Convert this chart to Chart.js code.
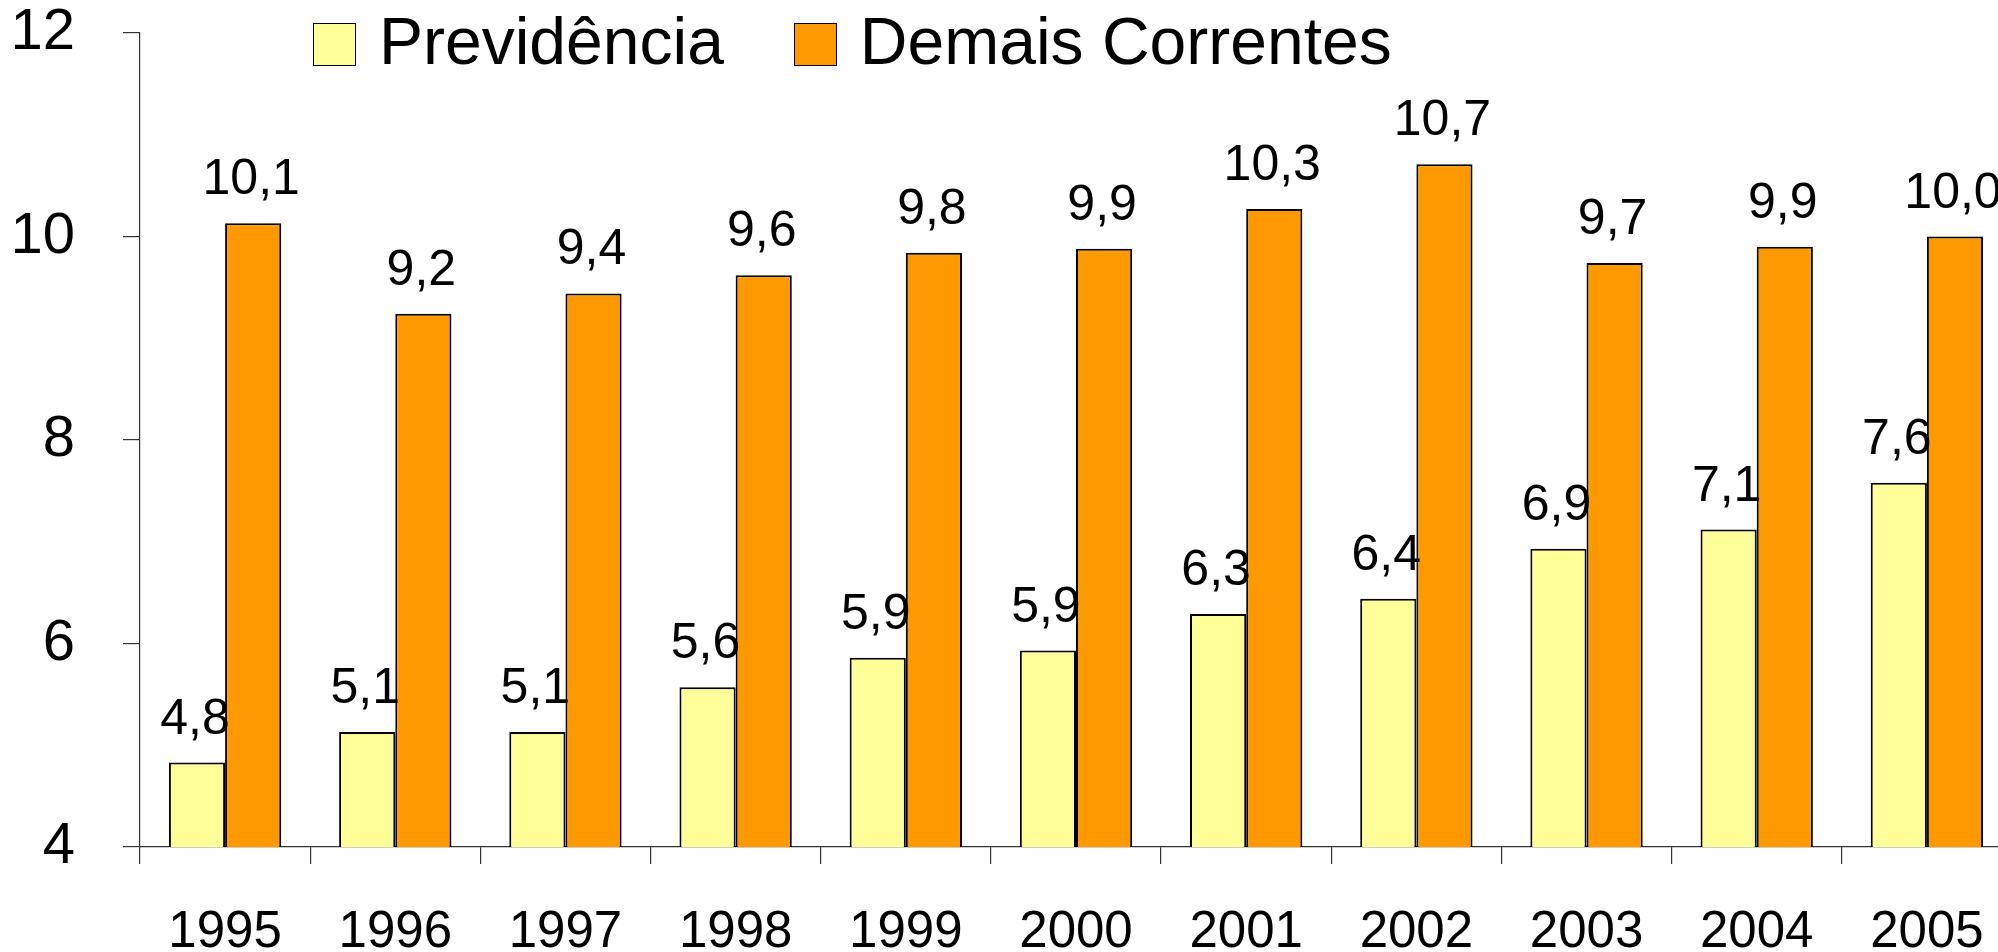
<!DOCTYPE html>
<html>
<head>
<meta charset="utf-8">
<script src="https://cdn.jsdelivr.net/npm/chart.js@4.4.0/dist/chart.umd.min.js"></script>
<style>
  html, body { margin: 0; padding: 0; background: #fff; overflow: hidden; }
  #wrap { position: relative; width: 1998px; height: 952px; overflow: hidden; }
  #chart { position: absolute; left: 0; top: 0; }
  #legend { position: absolute; left: 313px; top: 14px; display: flex; align-items: center;
            font-family: "Liberation Sans", Arial, sans-serif; font-size: 66px; line-height: 60px; color: #000; }
  .item { display: flex; align-items: center; margin-right: 70px; }
  .box { width: 41px; height: 41px; border: 1.5px solid #000; margin-right: 23px; }
  .item span { position: relative; top: -3px; }
</style>
</head>
<body>
<div id="wrap">
  <canvas id="chart" width="2012" height="952"></canvas>
  <div id="legend"></div>
</div>
<script>
const years = ['1995', '1996', '1997', '1998', '1999', '2000', '2001', '2002', '2003', '2004', '2005'];
const previdencia = [4.83, 5.13, 5.13, 5.57, 5.86, 5.93, 6.29, 6.44, 6.93, 7.12, 7.58];
const demaisCorrentes = [10.13, 9.24, 9.44, 9.62, 9.84, 9.88, 10.27, 10.71, 9.74, 9.90, 10.0];
const seriesNames = ['Previdência', 'Demais Correntes'];
const seriesColors = ['#FFFF99', '#FF9900'];
const yTicks = [4, 6, 8, 10, 12];

const FONT = '"Liberation Sans", Arial, sans-serif';

// value labels above each bar, e.g. "10,1"
const valueLabels = {
  id: 'valueLabels',
  afterDatasetsDraw(chart) {
    const ctx = chart.ctx;
    ctx.save();
    ctx.font = '50px ' + FONT;
    ctx.fillStyle = '#000';
    ctx.textAlign = 'center';
    ctx.textBaseline = 'alphabetic';
    chart.data.datasets.forEach((ds, i) => {
      chart.getDatasetMeta(i).data.forEach((bar, j) => {
        const txt = ds.data[j].toFixed(1).replace('.', ',');
        ctx.fillText(txt, bar.x - 2, bar.y - 29);
      });
    });
    ctx.restore();
  }
};

const chart = new Chart(document.getElementById('chart'), {
  type: 'bar',
  data: {
    labels: years,
    datasets: [
      { label: seriesNames[0], data: previdencia, backgroundColor: seriesColors[0], borderColor: '#000', borderWidth: 2 },
      { label: seriesNames[1], data: demaisCorrentes, backgroundColor: seriesColors[1], borderColor: '#000', borderWidth: 2 }
    ]
  },
  options: {
    responsive: false,
    animation: false,
    layout: { padding: { top: 33, left: 0, right: 0, bottom: 0 } },
    datasets: { bar: { categoryPercentage: 0.66, barPercentage: 1.0 } },
    plugins: { legend: { display: false }, tooltip: { enabled: false } },
    scales: {
      x: {
        grid: { offset: true, drawOnChartArea: false, tickLength: 17, color: '#333', lineWidth: 1.2 },
        border: { color: '#333', width: 1.2 },
        ticks: { font: { family: FONT, size: 51 }, color: '#000', padding: 38, maxRotation: 0 },
        afterFit(scale) { scale.height = 105; scale.paddingLeft = 0; scale.paddingRight = 0; }
      },
      y: {
        min: yTicks[0],
        max: yTicks[yTicks.length - 1],
        afterBuildTicks(scale) { scale.ticks = yTicks.map(v => ({ value: v })); },
        grid: { drawOnChartArea: false, tickLength: 17, color: '#333', lineWidth: 1.2 },
        border: { color: '#333', width: 1.2 },
        ticks: { font: { family: FONT, size: 58 }, color: '#000', padding: 48 },
        afterFit(scale) { scale.width = 140; scale.paddingTop = 0; scale.paddingBottom = 0; }
      }
    }
  },
  plugins: [valueLabels]
});

// legend built from the same series arrays
const legend = document.getElementById('legend');
seriesNames.forEach((name, i) => {
  const item = document.createElement('div');
  item.className = 'item';
  const box = document.createElement('div');
  box.className = 'box';
  box.style.background = seriesColors[i];
  const label = document.createElement('span');
  label.textContent = name;
  item.appendChild(box);
  item.appendChild(label);
  legend.appendChild(item);
});
</script>
</body>
</html>
